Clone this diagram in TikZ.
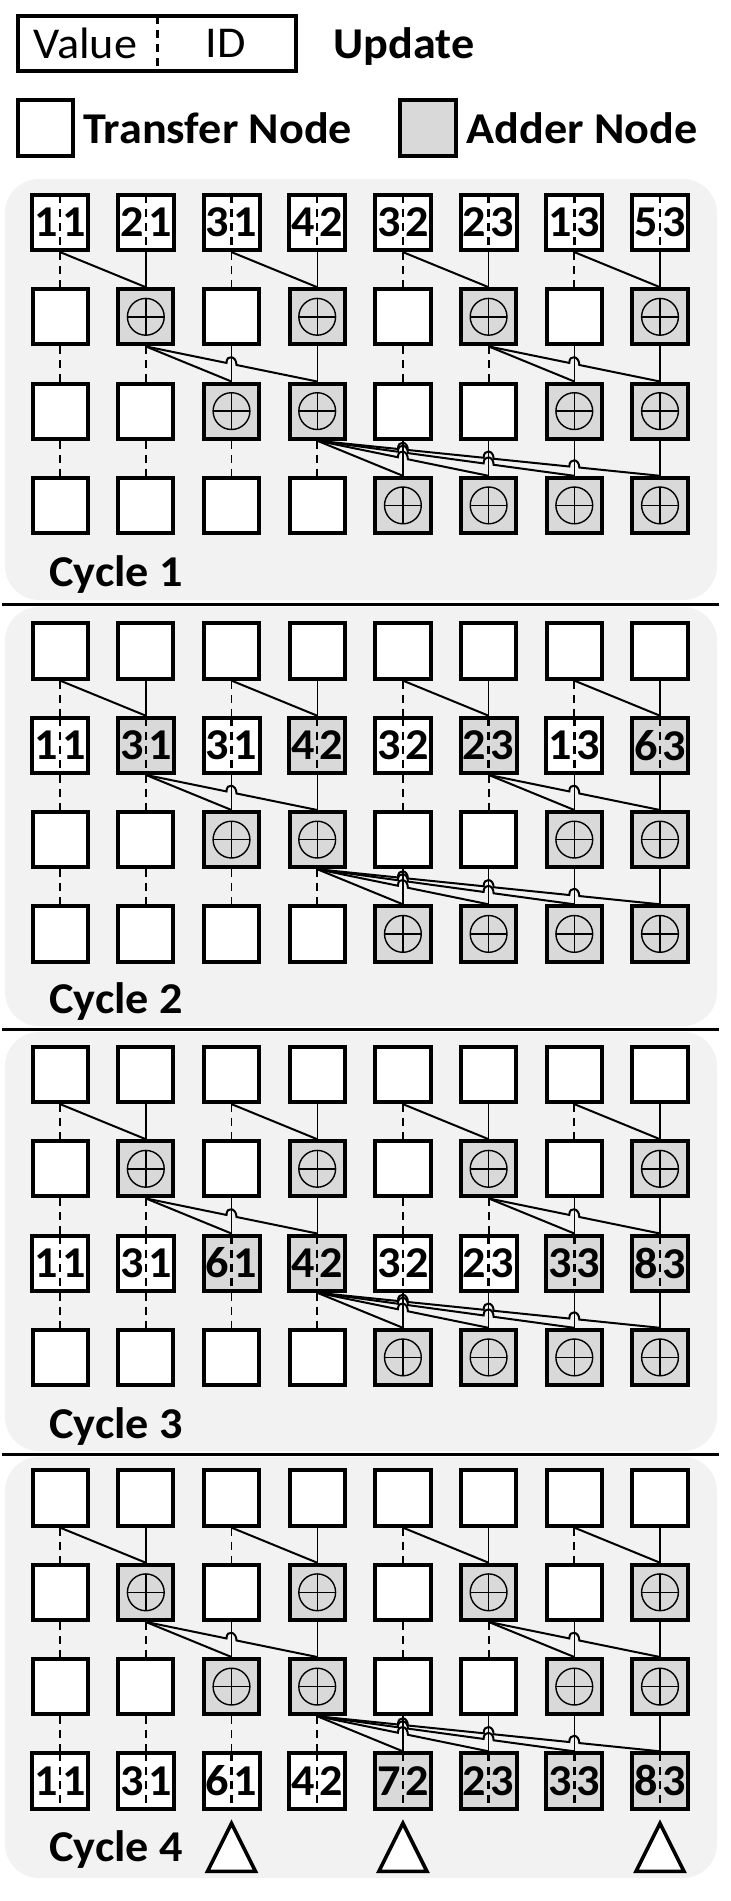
\documentclass[tikz,border=0pt]{standalone}
\usepackage{graphicx}
\usepackage{fontspec}
\setmainfont{Carlito}
\usetikzlibrary{calc}
\definecolor{addgray}{RGB}{217,217,217}
\definecolor{panelgray}{RGB}{242,242,242}
\newcommand{\wtxt}[1]{\scalebox{1.05}[1]{#1}}
\newcommand{\vid}[2]{\makebox[14pt]{\wtxt{#1}}\makebox[14pt]{\wtxt{#2}}}

\tikzset{
cell/.style={draw,line width=2pt,fill=white,minimum width=27.6pt,minimum height=27.6pt,inner sep=0pt,font=\bfseries\fontsize{22pt}{22pt}\selectfont},
addcell/.style={cell,fill=addgray},
plus/.style={path picture={
\draw [line width=0.7pt] (path picture bounding box.center) circle [radius=9.2pt];
\draw [line width=0.7pt] ([xshift=-9.2pt]path picture bounding box.center) -- ([xshift=9.2pt]path picture bounding box.center);
\draw [line width=0.7pt] ([yshift=-9.2pt]path picture bounding box.center) -- ([yshift=9.2pt]path picture bounding box.center);
}},
split/.style={path picture={
\draw [line width=1.2pt,dash pattern=on 4pt off 3pt] (path picture bounding box.north) -- (path picture bounding box.south);
}},
wire/.style={line width=0.7pt},
diag/.style={line width=1pt},
pass/.style={line width=0.9pt,dash pattern=on 4pt off 3pt},
lbl/.style={font=\bfseries\fontsize{22pt}{22pt}\selectfont,inner sep=0pt},
keytxt/.style={font=\fontsize{22pt}{22pt}\selectfont,inner sep=0pt},
tri/.style={draw,fill=white,line width=1.8pt,line join=miter},
}

\begin{document}
\begin{tikzpicture}[x=0.5pt,y=0.5pt]

\def\xo{60.1};
\def\colw{85.7};
\def\rowh{94.3};
\def\hw{5};
\def\hh{9};

\useasboundingbox (0,0) rectangle (731,-1901);

\foreach \ya/\yb in {179/600, 607/1026, 1032/1451, 1457/1878}
{
\fill [panelgray, rounded corners=17pt] (5,-\ya) rectangle (717,-\yb);
}

\foreach \y in {604,1029,1454}
{
\draw [line width=1.5pt] (2,-\y) -- (719,-\y);
}


\node [cell,split,minimum width=139pt] (key) at (157.4,-43.7) {};
\node [keytxt] (keyval) at ([xshift=-36pt]key.center) {\wtxt{Value}};
\node [keytxt] (keyid) at ([xshift=34pt]key.center) {\wtxt{ID}};
\node [lbl,anchor=base west] (upd) at (333,-58.3) {\wtxt{Update}};

\node [cell] (keyt) at (45.5,-128) {};
\node [lbl,anchor=west] (keyttxt) at (83,-128) {\wtxt{Transfer Node}};
\node [addcell] (keya) at (428,-128) {};
\node [lbl,anchor=west] (keyatxt) at (466,-128) {\wtxt{Adder Node}};


\foreach \p/\py in {1/222.5, 2/651, 3/1074.5, 4/1498}
{
\foreach \r in {1,...,4}
{
\ifnum\r=\p\relax\else
\foreach \c in {1,...,8}
{
\pgfmathtruncatemacro\ad{mod(\c-1,2^(\r-1))>2^(\r-2)-0.5};
\ifnum\ad=1
\node [addcell,plus] (n\p-\r-\c) at ({\xo+(\c-1)*\colw},{-\py-(\r-1)*\rowh}) {};
\else
\node [cell] (n\p-\r-\c) at ({\xo+(\c-1)*\colw},{-\py-(\r-1)*\rowh}) {};
\fi
}
\fi
}
}

\foreach \v/\d/\s [count=\c] in {1/1/cell,2/1/cell,3/1/cell,4/2/cell,3/2/cell,2/3/cell,1/3/cell,5/3/cell}
{
\node [\s,split] (n1-1-\c) at ({\xo+(\c-1)*\colw},-222.5) {\vid{\v}{\d}};
}
\foreach \v/\d/\s [count=\c] in {1/1/cell,3/1/addcell,3/1/cell,4/2/addcell,3/2/cell,2/3/addcell,1/3/cell,6/3/addcell}
{
\node [\s,split] (n2-2-\c) at ({\xo+(\c-1)*\colw},-745.3) {\vid{\v}{\d}};
}
\foreach \v/\d/\s [count=\c] in {1/1/cell,3/1/cell,6/1/addcell,4/2/addcell,3/2/cell,2/3/cell,3/3/addcell,8/3/addcell}
{
\node [\s,split] (n3-3-\c) at ({\xo+(\c-1)*\colw},-1263.1) {\vid{\v}{\d}};
}
\foreach \v/\d/\s [count=\c] in {1/1/cell,3/1/cell,6/1/cell,4/2/cell,7/2/addcell,2/3/addcell,3/3/addcell,8/3/addcell}
{
\node [\s,split] (n4-4-\c) at ({\xo+(\c-1)*\colw},-1780.9) {\vid{\v}{\d}};
}


\foreach \p in {1,...,4}
{
\foreach \r/\c in {1/1,1/3,1/5,1/7,2/1,2/2,2/5,2/6,3/1,3/2,3/3,3/4}
{
\pgfmathtruncatemacro\rr{\r+1};
\draw [pass] (n\p-\r-\c.south) -- (n\p-\rr-\c.north);
}
\foreach \r/\c in {1/2,1/4,1/6,1/8,2/3,2/4,2/7,2/8,3/5,3/6,3/7,3/8}
{
\pgfmathtruncatemacro\rr{\r+1};
\draw [wire] (n\p-\r-\c.south) -- (n\p-\rr-\c.north);
}
\foreach \r/\s/\k in {1/1/2,1/3/4,1/5/6,1/7/8,2/2/3,2/2/4,2/6/7,2/6/8,3/4/5,3/4/6,3/4/7,3/4/8}
{
\pgfmathtruncatemacro\rr{\r+1};
\pgfmathtruncatemacro\nh{\k-\s-1};
\coordinate (S) at (n\p-\r-\s.south);
\coordinate (T) at (n\p-\rr-\k.north);
\ifnum\nh=0
\draw [diag] (S) -- (T);
\else
\draw [diag] (S)
\foreach \i [evaluate=\i as \ta using (\i-\hw/\colw)/(\nh+1), evaluate=\i as \tb using (\i+\hw/\colw)/(\nh+1)] in {1,...,\nh}
{
-- ($(S)!\ta!(T)$) .. controls ($(S)!\ta!(T)+(0,\hh)$) and ($(S)!\tb!(T)+(0,\hh)$) .. ($(S)!\tb!(T)$)
}
-- (T);
\fi
}
}


\foreach \p/\yb in {1/586,2/1013.5,3/1438,4/1861}
{
\node [lbl,anchor=base west] (cyc\p) at (49,-\yb) {\wtxt{Cycle \p}};
}

\foreach \c in {3,5,8}
{
\coordinate (t\c) at ([yshift=-6.4pt]n4-4-\c.south);
\draw [tri] (t\c) -- ++(-24,-48) -- ++(48,0) -- cycle;
}

\end{tikzpicture}
\end{document}
